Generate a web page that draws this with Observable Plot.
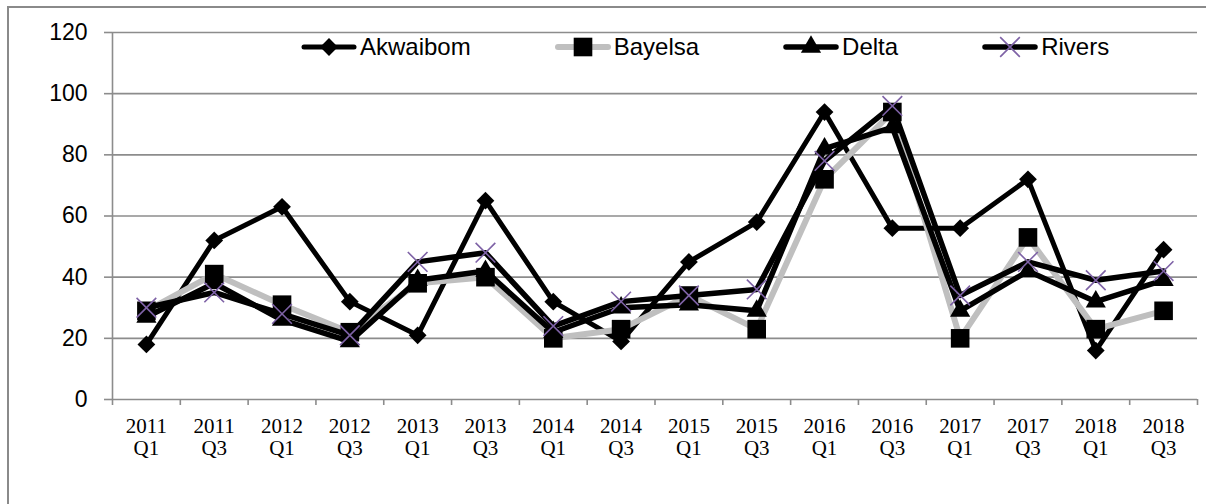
<!DOCTYPE html>
<html>
<head>
<meta charset="utf-8">
<script src="https://cdn.jsdelivr.net/npm/d3@7"></script>
<script src="https://cdn.jsdelivr.net/npm/@observablehq/plot@0.6"></script>
<style>
  html, body { margin: 0; padding: 0; background: #fff; }
  #wrap { position: relative; width: 1206px; height: 504px; overflow: hidden; }
  #border { position: absolute; left: 7px; top: 6px; width: 1300px; height: 600px; border: 2px solid #8a8a8a; box-sizing: border-box; pointer-events: none; }
  #legend { position: absolute; left: 301px; top: 33px; height: 28px; display: flex; align-items: center; gap: 84px;
            font-family: "Liberation Sans", Arial, sans-serif; font-size: 24px; color: #000; }
  .item { display: flex; align-items: center; gap: 3px; }
  .item svg { display: block; }
</style>
</head>
<body>
<div id="wrap">
  <div id="chart"></div>
  <div id="border"></div>
  <div id="legend"></div>
</div>
<script>
const categories = ["2011 Q1","2011 Q3","2012 Q1","2012 Q3","2013 Q1","2013 Q3","2014 Q1","2014 Q3",
                    "2015 Q1","2015 Q3","2016 Q1","2016 Q3","2017 Q1","2017 Q3","2018 Q1","2018 Q3"];
const seriesNames = ["Akwaibom","Bayelsa","Delta","Rivers"];
const akwaibom = [18,52,63,32,21,65,32,19,45,58,94,56,56,72,16,49];
const bayelsa  = [29,41,31,22,38,40,20,23,34,23,72,94,20,53,23,29];
const delta    = [27,38,26,19,39,42,22,30,31,29,82,89,29,42,32,39];
const rivers   = [30,35,28,21,45,48,24,32,34,36,78,96,34,45,39,42];
const yTicks = [0,20,40,60,80,100,120];

const values = [akwaibom, bayelsa, delta, rivers];
const styles = [
  {line: "#000", width: 5, symbol: "diamond2", r: 8, fill: "#000", stroke: "none", sw: 0},
  {line: "#bfbfbf", width: 6, symbol: "square", r: 10.5, fill: "#000", stroke: "none", sw: 0},
  {line: "#000", width: 5.5, symbol: "triangle", r: 7.5, fill: "#000", stroke: "none", sw: 0},
  {line: "#000", width: 5.5, symbol: "times", r: 9, fill: "none", stroke: "#7e62a6", sw: 1.6}
];

const grid = "#8c8c8c";
const boundaries = d3.range(-0.5, categories.length, 1);

const marks = [
  Plot.gridY({ticks: yTicks, stroke: grid, strokeOpacity: 1, strokeWidth: 1.6}),
  Plot.ruleX([boundaries[0]], {stroke: grid, strokeWidth: 1.6}),
  Plot.axisY({ticks: yTicks, tickSize: 8, tickPadding: 17, stroke: grid, strokeWidth: 1.6,
              fontSize: 23, fontFamily: "Liberation Sans, Arial, sans-serif", color: "#000", label: null}),
  Plot.axisX({ticks: boundaries, tickSize: 6, tickFormat: () => "", stroke: grid, strokeWidth: 1.6, label: null}),
  Plot.text(categories, {x: (d, i) => i, text: d => d.replace(" ", "\n"), frameAnchor: "bottom",
              lineAnchor: "top", dy: 18, fontSize: 21, lineHeight: 1.05,
              fontFamily: "Liberation Serif, Times New Roman, serif", fill: "#000"})
];

values.forEach((vals, s) => {
  const st = styles[s];
  const data = vals.map((v, i) => ({i, v}));
  marks.push(Plot.line(data, {x: "i", y: "v", stroke: st.line, strokeWidth: st.width,
                              strokeLinejoin: "round", strokeLinecap: "round"}));
  marks.push(Plot.dot(data, {x: "i", y: "v", symbol: st.symbol, r: st.r, fill: st.fill,
                             stroke: st.stroke, strokeWidth: st.sw}));
});

const plot = Plot.plot({
  width: 1206, height: 504,
  marginLeft: 112, marginRight: 9, marginTop: 32, marginBottom: 105,
  x: {type: "linear", domain: [boundaries[0], boundaries[boundaries.length - 1]], axis: null},
  y: {domain: [0, 120], axis: null},
  style: {background: "transparent", overflow: "visible"},
  marks
});
document.getElementById("chart").appendChild(plot);

// Legend (HTML overlay)
const legend = document.getElementById("legend");
const symMap = {diamond2: d3.symbolDiamond2, square: d3.symbolSquare, triangle: d3.symbolTriangle, times: d3.symbolTimes};
seriesNames.forEach((name, s) => {
  const st = styles[s];
  const item = document.createElement("div");
  item.className = "item";
  const w = 56, h = 24;
  const svg = d3.create("svg").attr("width", w).attr("height", h);
  svg.append("line").attr("x1", 3).attr("x2", w - 3).attr("y1", h / 2).attr("y2", h / 2)
     .attr("stroke", st.line).attr("stroke-width", st.width).attr("stroke-linecap", "round");
  svg.append("path").attr("transform", `translate(${w / 2},${h / 2})`)
     .attr("d", d3.symbol(symMap[st.symbol], Math.PI * st.r * st.r)())
     .attr("fill", st.fill).attr("stroke", st.stroke).attr("stroke-width", st.sw);
  item.appendChild(svg.node());
  const label = document.createElement("span");
  label.textContent = name;
  item.appendChild(label);
  legend.appendChild(item);
});
</script>
</body>
</html>
